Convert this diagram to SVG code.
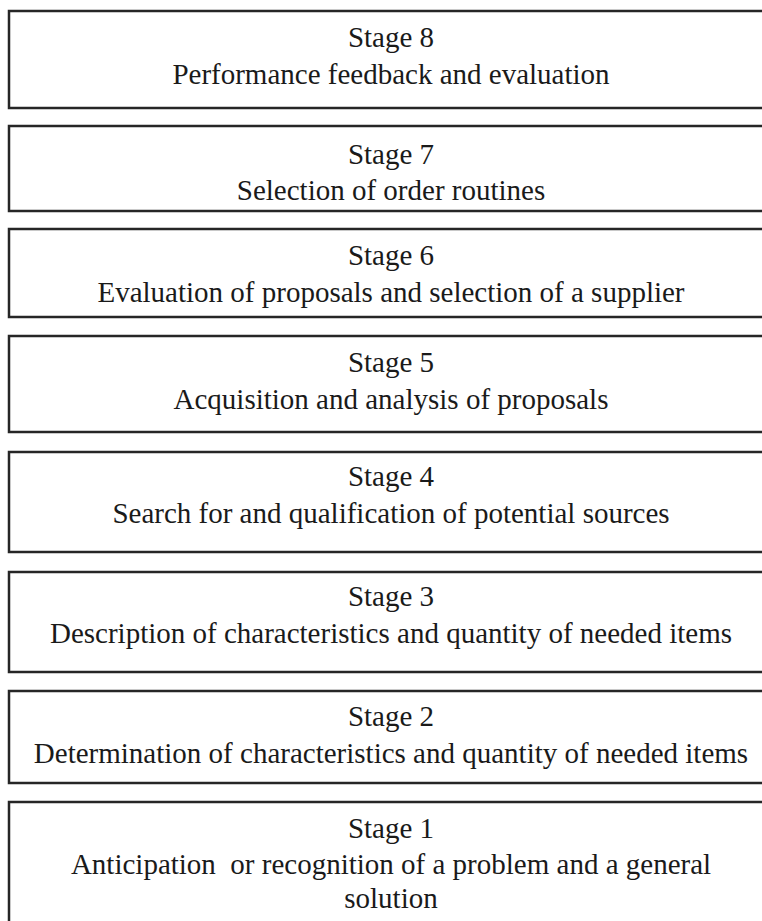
<svg xmlns="http://www.w3.org/2000/svg" width="762" height="921" viewBox="0 0 762 921">
<style>
.box{fill:#fff;stroke:#262626;stroke-width:2.5}
.t{font-family:"Liberation Serif","Times New Roman",serif;font-size:29px;fill:#1a1a1a;text-anchor:middle;white-space:pre}
</style>
<rect width="762" height="921" fill="#fff"/>
<g id="stage8"><rect class="box" x="9" y="11" width="766" height="97"/><text class="t" x="391" y="47">Stage 8</text><text class="t" x="391" y="84">Performance feedback and evaluation</text></g>
<g id="stage7"><rect class="box" x="9" y="126" width="766" height="85"/><text class="t" x="391" y="164">Stage 7</text><text class="t" x="391" y="200">Selection of order routines</text></g>
<g id="stage6"><rect class="box" x="9" y="229" width="766" height="88"/><text class="t" x="391" y="265">Stage 6</text><text class="t" x="391" y="302">Evaluation of proposals and selection of a supplier</text></g>
<g id="stage5"><rect class="box" x="9" y="336" width="766" height="96"/><text class="t" x="391" y="372">Stage 5</text><text class="t" x="391" y="409">Acquisition and analysis of proposals</text></g>
<g id="stage4"><rect class="box" x="9" y="452" width="766" height="100"/><text class="t" x="391" y="486">Stage 4</text><text class="t" x="391" y="523">Search for and qualification of potential sources</text></g>
<g id="stage3"><rect class="box" x="9" y="572" width="766" height="100"/><text class="t" x="391" y="606">Stage 3</text><text class="t" x="391" y="643">Description of characteristics and quantity of needed items</text></g>
<g id="stage2"><rect class="box" x="9" y="691" width="766" height="92"/><text class="t" x="391" y="726">Stage 2</text><text class="t" x="391" y="763">Determination of characteristics and quantity of needed items</text></g>
<g id="stage1"><rect class="box" x="9" y="802" width="766" height="130"/><text class="t" x="391" y="838">Stage 1</text><text class="t" x="391" y="874" xml:space="preserve">Anticipation  or recognition of a problem and a general</text><text class="t" x="391" y="908">solution</text></g>
<g id="connectors"></g>
</svg>
